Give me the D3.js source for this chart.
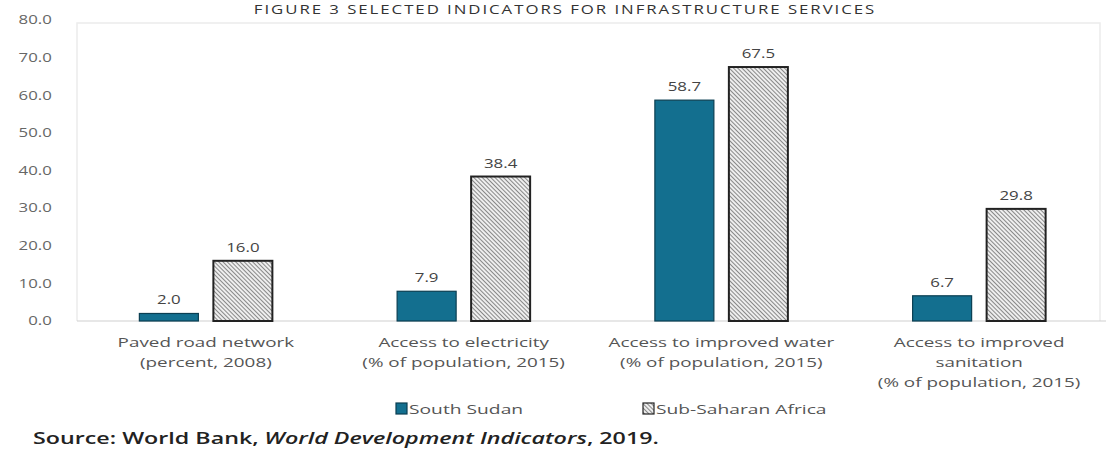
<!doctype html>
<html lang="en">
<head>
<meta charset="UTF-8">
<title>Infrastructure indicators</title>
<style>
  html, body { margin: 0; padding: 0; background: #fff; }
  svg { display: block; font-family: "Open Sans", sans-serif; }
</style>
</head>
<body>
<svg id="chart" width="1106" height="455"></svg>
<script src="https://cdn.jsdelivr.net/npm/d3@7"></script>
<script>
  // values
  const categories = [
    ['Paved road network', '(percent, 2008)'],
    ['Access to electricity', '(% of population, 2015)'],
    ['Access to improved water', '(% of population, 2015)'],
    ['Access to improved', 'sanitation', '(% of population, 2015)']
  ]
  const series = ['South Sudan', 'Sub-Saharan Africa']
  const southSudan = [2.0, 7.9, 58.7, 6.7]
  const subSaharan = [16.0, 38.4, 67.5, 29.8]
  const yTicks = [0, 10, 20, 30, 40, 50, 60, 70, 80]

  const svg = d3.select('#chart')
  const mLeft = 77, mRight = 1108, mTop = 20, mBottom = 321
  const teal = '#136f8f'

  // the source figure is stretched sideways, so texts get a horizontal scale
  const place = (x, y, k) => `translate(${x},${y}) scale(${k},1)`

  const defs = svg.append('defs')
  defs.append('pattern')
    .attr('id', 'hatch')
    .attr('patternUnits', 'userSpaceOnUse')
    .attr('width', 3).attr('height', 3)
    .attr('patternTransform', 'rotate(45)')
    .call(p => {
      p.append('rect').attr('width', 3).attr('height', 3).attr('fill', '#eeeeee')
      p.append('line').attr('x1', 0).attr('y1', 0).attr('x2', 3).attr('y2', 0)
        .attr('stroke', '#444').attr('stroke-width', 1.2)
    })

  // title (cut off at the top in the source)
  svg.append('text')
    .attr('transform', place(565, 14, 1.4))
    .attr('text-anchor', 'middle')
    .attr('font-size', 12).attr('fill', '#333')
    .attr('letter-spacing', 1.4)
    .text('FIGURE 3 SELECTED INDICATORS FOR INFRASTRUCTURE SERVICES')

  const x = d3.scaleBand().domain(d3.range(categories.length)).range([mLeft, mRight])
  const y = d3.scaleLinear().domain([0, 80]).range([mBottom, mTop])

  // light frame round the plot
  svg.append('path')
    .attr('d', `M${mLeft},${mBottom} V23 H1100 V${mBottom}`)
    .attr('fill', 'none').attr('stroke', '#ececec').attr('stroke-width', 1.5)

  const yAxis = svg.append('g')
    .attr('transform', `translate(${mLeft},0)`)
    .call(d3.axisLeft(y).tickValues(yTicks).tickFormat(d3.format('.1f')).tickSize(0).tickPadding(18))
  yAxis.select('.domain').remove()
  yAxis.selectAll('text')
    .attr('transform', 'scale(1.4,1)')
    .attr('font-size', 12).attr('fill', '#666').attr('font-family', '"Open Sans", sans-serif')

  svg.append('line')
    .attr('x1', mLeft).attr('x2', mRight).attr('y1', mBottom).attr('y2', mBottom)
    .attr('stroke', '#cfcfcf').attr('stroke-width', 1)

  const barW = 59, gap = 15
  const rows = categories.map((c, i) => [
    { s: 0, i, v: southSudan[i] },
    { s: 1, i, v: subSaharan[i] }
  ]).flat()
  const bx = d => x(d.i) + x.bandwidth() / 2 + (d.s === 0 ? -gap / 2 - barW : gap / 2)

  svg.append('g').selectAll('rect')
    .data(rows).join('rect')
    .attr('x', bx)
    .attr('y', d => y(d.v))
    .attr('width', barW)
    .attr('height', d => y(0) - y(d.v))
    .attr('fill', d => d.s === 0 ? teal : 'url(#hatch)')
    .attr('stroke', d => d.s === 0 ? '#0b3f52' : '#222')
    .attr('stroke-width', d => d.s === 0 ? 1.2 : 2)

  svg.append('g').selectAll('text')
    .data(rows).join('text')
    .attr('transform', d => place(bx(d) + barW / 2, y(d.v) - 9, 1.35))
    .attr('text-anchor', 'middle')
    .attr('font-size', 12.5).attr('fill', '#444')
    .text(d => d.v.toFixed(1))

  // category labels
  const cat = svg.append('g').selectAll('text')
    .data(categories).join('text')
    .attr('transform', (d, i) => place(x(i) + x.bandwidth() / 2, 347, 1.45))
    .attr('text-anchor', 'middle')
    .attr('font-size', 13).attr('fill', '#555')
  cat.selectAll('tspan')
    .data(d => d).join('tspan')
    .attr('x', 0)
    .attr('dy', (d, j) => j === 0 ? 0 : 20)
    .text(d => d)

  // legend
  const legX = [396, 643]
  const leg = svg.append('g').selectAll('g')
    .data(series).join('g')
    .attr('transform', (d, i) => `translate(${legX[i]},403)`)
  leg.append('rect')
    .attr('width', 11).attr('height', 11)
    .attr('fill', (d, i) => i === 0 ? teal : 'url(#hatch)')
    .attr('stroke', (d, i) => i === 0 ? '#0b3f52' : '#222')
    .attr('stroke-width', 1.2)
  leg.append('text')
    .attr('transform', place(13, 11, 1.48))
    .attr('font-size', 13).attr('fill', '#555')
    .text(d => d)

  // source note
  const src = svg.append('text')
    .attr('transform', place(33, 444, 1.41))
    .attr('font-size', 16.5).attr('font-weight', 600).attr('fill', '#222')
  src.append('tspan').text('Source: World Bank, ')
  src.append('tspan').attr('font-style', 'italic').text('World Development Indicators')
  src.append('tspan').text(', 2019.')
</script>
</body>
</html>
